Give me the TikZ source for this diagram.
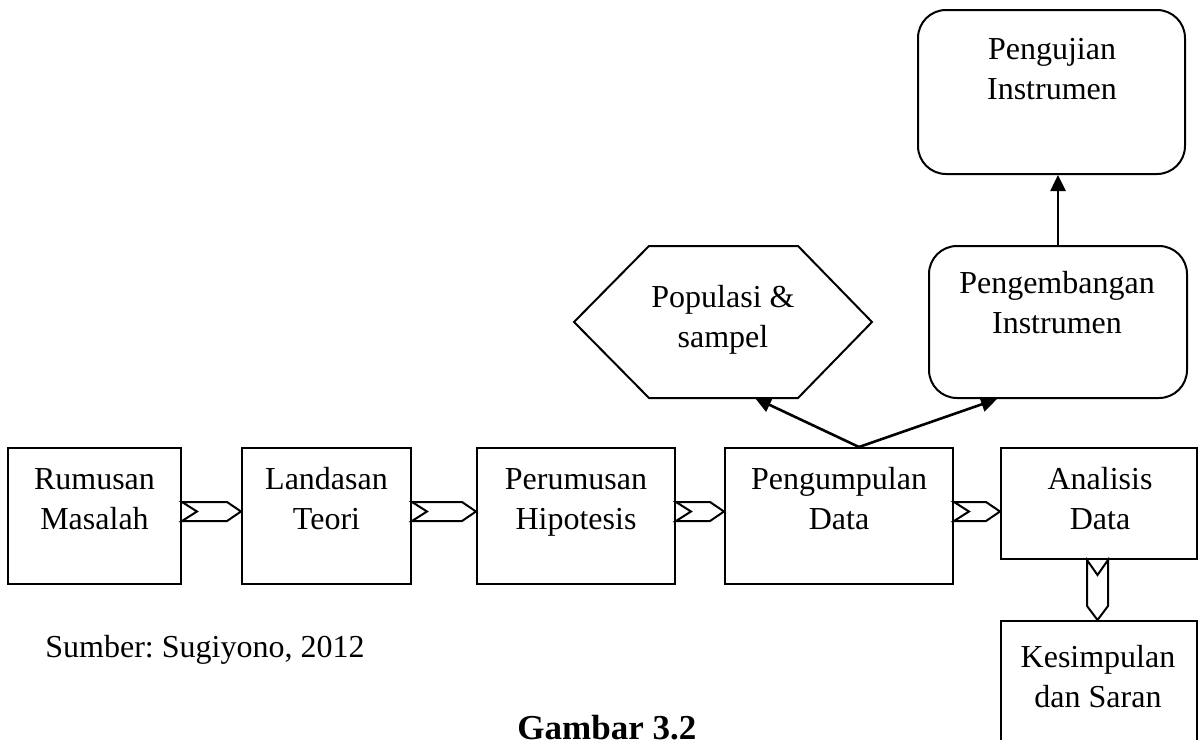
\documentclass[tikz,border=0pt]{standalone}
\usepackage{fontspec}
\setmainfont{Liberation Serif}
\usetikzlibrary{arrows.meta,calc}
\frenchspacing
\begin{document}
\begin{tikzpicture}[x=0.5pt,y=-0.5pt,
 every node/.style={font=\fontsize{16pt}{20pt}\selectfont},
 boxn/.style={draw,line width=1pt,inner sep=0pt},
 rbox/.style={boxn,rounded corners=14pt},
 lbl/.style={align=center,anchor=base,inner sep=0pt},
 chev/.style={draw,line width=1pt,line join=miter},
 arr/.style={line width=1.3pt,-{Triangle[length=8pt,width=7.5pt]}}]
\useasboundingbox (0,0) rectangle (1199,739);
% main boxes
\node[boxn,minimum width=86.5pt,minimum height=68pt] (b1) at (94.5,516) {};
\node[boxn,minimum width=84.5pt,minimum height=68pt] (b2) at (326.5,516) {};
\node[boxn,minimum width=99pt,minimum height=68pt] (b3) at (576,516) {};
\node[boxn,minimum width=114pt,minimum height=68pt] (b4) at (839,516) {};
\node[boxn,minimum width=98pt,minimum height=55.5pt] (b5) at (1099,503.5) {};
\node[boxn,minimum width=98pt,minimum height=74.5pt] (b6) at (1099,695.5) {};
\node[rbox,minimum width=129pt,minimum height=76pt] (pdev) at (1058,322) {};
\node[rbox,minimum width=133.5pt,minimum height=82pt] (puji) at (1051.5,92) {};
% hexagon
\draw[line width=1pt,line join=miter] (574,322) -- (649,246) -- (798,246) -- (872,322) -- (798,398) -- (649,398) -- cycle;
\coordinate (popb) at (755,398);
% labels (base = baseline of last line)
\node[lbl] (t1) at (94.5,529) {Rumusan\\Masalah};
\node[lbl] (t2) at (326.5,529) {Landasan\\Teori};
\node[lbl] (t3) at (576,529) {Perumusan\\Hipotesis};
\node[lbl] (t4) at (839,529) {Pengumpulan\\Data};
\node[lbl] (t5) at (1100,529) {Analisis\\Data};
\node[lbl] (t6) at (1098,707) {Kesimpulan\\dan Saran};
\node[lbl] (tpop) at (723,347) {Populasi \&\\sampel};
\node[lbl] (tpdev) at (1057,333) {Pengembangan\\Instrumen};
\node[lbl] (tpuji) at (1052,99) {Pengujian\\Instrumen};
\node[anchor=base west,inner sep=0pt] (src) at (45,657) {Sumber: Sugiyono, 2012};
\node[anchor=base west,inner sep=0pt,font=\fontsize{17.5pt}{21pt}\selectfont\bfseries] (cap) at (517,739) {Gambar 3.2};
% chevron connectors
\newcommand\hchev[2]{\draw[chev] (#1.east |- 0,502) -- ($(#2.west |- 0,502)+(-14,0)$) -- (#2.west |- 0,511.5) -- ($(#2.west |- 0,521)+(-14,0)$) -- (#1.east |- 0,521) -- ($(#1.east |- 0,511.5)+(15,0)$) -- cycle;}
\hchev{b1}{b2}
\hchev{b2}{b3}
\hchev{b3}{b4}
\hchev{b4}{b5}
\draw[chev] (1087,0 |- b5.south) -- ($(1087,0 |- b6.north)+(0,-14)$) -- (1097.5,0 |- b6.north) -- ($(1108,0 |- b6.north)+(0,-14)$) -- (1108,0 |- b5.south) -- ($(1097.5,0 |- b5.south)+(0,15)$) -- cycle;
% arrows
\coordinate (fork) at ($(b4.north)+(20,0)$);
\draw[arr] (fork) -- (popb);
\draw[arr] (fork) -- ($(pdev.south)+(-61,0)$);
\draw[arr] (pdev.north) -- (pdev.north |- puji.south);
\end{tikzpicture}
\end{document}
